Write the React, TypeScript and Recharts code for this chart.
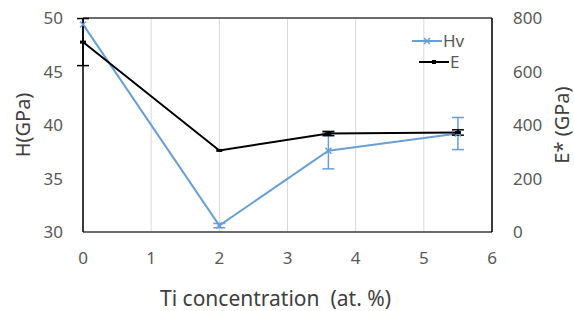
import React from 'react';
import { ComposedChart, Line, XAxis, YAxis, CartesianGrid, ErrorBar, ReferenceLine, Label } from 'recharts';

// Ti concentration (at. %)
const tiConc = [0, 2, 3.6, 5.5];
// hardness Hv (GPa) and its error
const hvValues = [49.4, 30.6, 37.6, 39.2];
const hvErrors = [0, 0.2, 1.7, 1.5];
// reduced modulus E* (GPa) and its error
const eValues = [710, 305, 368, 372];
const eErrors = [88, 0, 8, 10];

const xTicks = [0, 1, 2, 3, 4, 5, 6];
const hTicks = [30, 35, 40, 45, 50];
const eTicks = [0, 200, 400, 600, 800];

const BLUE = '#6a9fd4';
const FONT = '"Noto Sans", "Open Sans", sans-serif';

const data = tiConc.map((x, i) => ({
  x,
  hv: hvValues[i],
  hvErr: hvErrors[i],
  e: eValues[i],
  eErr: eErrors[i],
}));

const CrossDot = (props: any) => {
  const { cx, cy } = props;
  if (cx == null || cy == null) return null;
  const s = 3;
  return (
    <g stroke={BLUE} strokeWidth={1.5}>
      <line x1={cx - s} y1={cy - s} x2={cx + s} y2={cy + s} />
      <line x1={cx - s} y1={cy + s} x2={cx + s} y2={cy - s} />
    </g>
  );
};

const DashDot = (props: any) => {
  const { cx, cy } = props;
  if (cx == null || cy == null) return null;
  return <line x1={cx - 3} y1={cy} x2={cx + 3} y2={cy} stroke="#000" strokeWidth={3} />;
};

// legend drawn as an overlay so it doesn't eat into the plot area
const LegendBox = () => (
  <div style={{ position: 'absolute', left: 412, top: 30, fontFamily: FONT, fontSize: 17, color: '#595959', lineHeight: '21px' }}>
    <div style={{ display: 'flex', alignItems: 'center' }}>
      <svg width={30} height={12}>
        <line x1={0} y1={6} x2={30} y2={6} stroke={BLUE} strokeWidth={2} />
        <line x1={12} y1={3} x2={18} y2={9} stroke={BLUE} strokeWidth={1.5} />
        <line x1={12} y1={9} x2={18} y2={3} stroke={BLUE} strokeWidth={1.5} />
      </svg>
      <span style={{ marginLeft: 1 }}>Hv</span>
    </div>
    <div style={{ display: 'flex', alignItems: 'center', paddingLeft: 7 }}>
      <svg width={30} height={12}>
        <line x1={0} y1={6} x2={30} y2={6} stroke="#000" strokeWidth={2} />
        <line x1={13} y1={6} x2={17} y2={6} stroke="#000" strokeWidth={4} />
      </svg>
      <span style={{ marginLeft: 1 }}>E</span>
    </div>
  </div>
);

export default function App() {
  return (
    <div style={{ position: 'absolute', left: 0, top: 0, width: 574, height: 311, background: '#fff' }}>
      <ComposedChart width={574} height={311} data={data} margin={{ top: 18, right: 0, bottom: 0, left: 0 }}>
        <CartesianGrid stroke="#d9d9d9" />
        <XAxis
          dataKey="x"
          type="number"
          domain={[0, 6]}
          ticks={xTicks}
          height={79}
          tickLine={false}
          tickMargin={14}
          axisLine={{ stroke: '#404040', strokeWidth: 1.5 }}
          tick={{ fill: '#595959', fontSize: 17, fontFamily: FONT }}
        >
          <Label value={'Ti concentration\u00a0\u00a0(at. %)'} position="insideBottom" offset={5} dx={-12} fill="#404040" fontSize={21} fontFamily={FONT} />
        </XAxis>
        <YAxis
          yAxisId="left"
          domain={[30, 50]}
          ticks={hTicks}
          width={83}
          tickLine={false}
          tickMargin={14}
          axisLine={{ stroke: '#000', strokeWidth: 1.5 }}
          tick={{ fill: '#595959', fontSize: 17, fontFamily: FONT }}
        >
          <Label value="H(GPa)" angle={-90} position="insideLeft" offset={23} fill="#404040" fontSize={20} fontFamily={FONT} style={{ textAnchor: 'middle' }} />
        </YAxis>
        <YAxis
          yAxisId="right"
          orientation="right"
          domain={[0, 800]}
          ticks={eTicks}
          width={82}
          tickLine={false}
          tickMargin={15}
          axisLine={{ stroke: '#000', strokeWidth: 1.5 }}
          tick={{ fill: '#595959', fontSize: 17, fontFamily: FONT }}
        >
          <Label value="E* (GPa)" angle={-90} position="insideRight" offset={12} fill="#404040" fontSize={20} fontFamily={FONT} style={{ textAnchor: 'middle' }} />
        </YAxis>
        <ReferenceLine yAxisId="left" y={50} stroke="#404040" strokeWidth={1.5} />
        <Line
          yAxisId="left"
          dataKey="hv"
          name="Hv"
          stroke={BLUE}
          strokeWidth={2}
          dot={<CrossDot />}
          activeDot={false}
          isAnimationActive={false}
        >
          <ErrorBar dataKey="hvErr" direction="y" width={6} stroke={BLUE} strokeWidth={1.5} />
        </Line>
        <Line
          yAxisId="right"
          dataKey="e"
          name="E"
          stroke="#000"
          strokeWidth={2}
          dot={<DashDot />}
          activeDot={false}
          isAnimationActive={false}
        >
          <ErrorBar dataKey="eErr" direction="y" width={6} stroke="#000" strokeWidth={1.5} />
        </Line>
      </ComposedChart>
      <LegendBox />
    </div>
  );
}
